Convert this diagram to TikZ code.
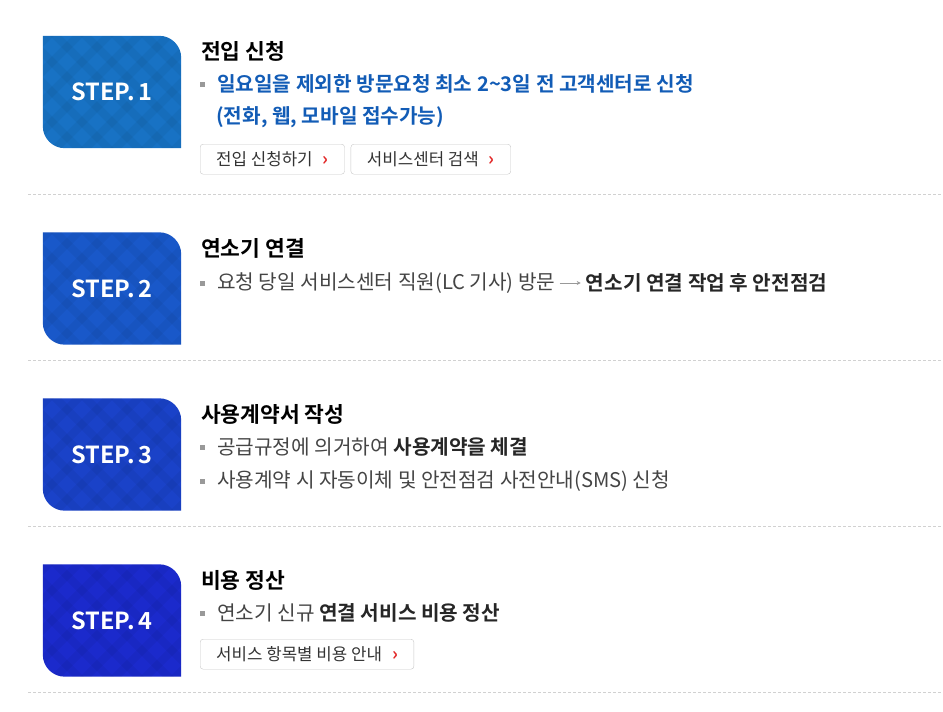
\documentclass[tikz,border=0pt]{standalone}
\usepackage{fontspec}
\setmainfont{Noto Sans CJK KR}[BoldFont={Noto Sans CJK KR Bold}]
\usetikzlibrary{positioning,calc,arrows.meta}

\definecolor{stepA}{RGB}{24,114,196}
\definecolor{stepB}{RGB}{25,88,201}
\definecolor{stepC}{RGB}{26,66,200}
\definecolor{stepD}{RGB}{27,42,204}
\definecolor{linkblue}{RGB}{18,92,182}
\definecolor{bodygray}{RGB}{68,68,68}
\definecolor{chevred}{RGB}{226,40,40}

% box with the two rounded corners (top right, bottom left)
\newcommand\stepshape[1]{(#1.north west) -- ($(#1.north east)+(-22pt,0pt)$)
  arc[start angle=90,end angle=0,radius=22pt] -- (#1.south east)
  -- ($(#1.south west)+(22pt,0pt)$) arc[start angle=270,end angle=180,radius=22pt] -- cycle}
\newcommand\chev{{\color{chevred}\bfseries\fontsize{18}{18}\selectfont ›}}

\begin{document}
\begin{tikzpicture}[x=1pt,y=-1pt,
    stepbox/.style={minimum width=138pt,minimum height=112pt,inner sep=0pt,
       text=white,font=\fontsize{23.5}{23.5}\selectfont\bfseries},
    title/.style={anchor=west,inner sep=0pt,font=\fontsize{21.5}{21.5}\selectfont\bfseries,text=black},
    body/.style={anchor=west,inner sep=0pt,font=\fontsize{20.2}{20.2}\selectfont,text=bodygray},
    strong/.style={body,text=black!85,font=\fontsize{20.2}{20.2}\selectfont\bfseries},
    bullet/.style={fill=black!40,minimum size=5pt,inner sep=0pt},
    button/.style={draw=black!22,rounded corners=3pt,anchor=north west,minimum height=30pt,
       inner xsep=16pt,inner ysep=0pt,font=\fontsize{16.8}{16.8}\selectfont,text=black!80},
    sep/.style={black!18,dash pattern=on 3pt off 2pt}]

    \useasboundingbox (0,0) rectangle (943,712);

    % step boxes
    \foreach \n/\y/\c in {1/92/stepA,2/288.5/stepB,3/454.5/stepC,4/620.5/stepD}
    {
      \node[stepbox] (step\n) at (112,\y) {};
      \fill[\c] \stepshape{step\n};
      \begin{scope}
        \clip \stepshape{step\n};
        \foreach \k in {-6,...,6}
        {
          \draw[black,opacity=0.045,line width=8pt] ($(step\n.center)+(\k*30-90,-90)$) -- ++(180,180);
          \draw[black,opacity=0.045,line width=8pt] ($(step\n.center)+(\k*30-90,90)$) -- ++(180,-180);
        }
      \end{scope}
      \node[stepbox] at (step\n.center) {STEP.\,\n};
    }

    % separators
    \foreach \y in {194,360,526,692}
      \draw[sep] (28,\y) -- (943,\y);

    % step 1
    \node[title] (t1) at (201,51) {전입 신청};
    \node[bullet] (b1a) at (202.5,84) {};
    \node[strong,text=linkblue] (l1a) at (217,84)
      {일요일을 제외한 방문요청 최소 2\textasciitilde 3일 전 고객센터로 신청};
    \node[strong,text=linkblue] (l1b) at (216,117) {(전화, 웹, 모바일 접수가능)};
    \node[button] (btn1) at (200,144) {전입 신청하기\hspace{10pt}\chev};
    \node[button,right=6pt of btn1.north east,anchor=north west] (btn2) {서비스센터 검색\hspace{10pt}\chev};

    % step 2
    \node[title] (t2) at (201,248) {연소기 연결};
    \node[bullet] (b2a) at (202.5,283) {};
    \node[body] (l2a) at (217,283) {요청 당일 서비스센터 직원(LC 기사) 방문};
    \node[strong,right=30pt of l2a] (l2b) {연소기 연결 작업 후 안전점검};
    \draw[black!40,-{Stealth[length=4pt,width=4pt]},shorten <=4pt,shorten >=5pt] (l2a.east) -- (l2b.west);

    % step 3
    \node[title] (t3) at (201,414) {사용계약서 작성};
    \node[bullet] (b3a) at (202.5,447) {};
    \node[body] (l3a) at (217,447) {공급규정에 의거하여 {\bfseries\color{black!85}사용계약을 체결}};
    \node[bullet] (b3b) at (202.5,481) {};
    \node[body] (l3b) at (217,481) {사용계약 시 자동이체 및 안전점검 사전안내(SMS) 신청};

    % step 4
    \node[title] (t4) at (201,580) {비용 정산};
    \node[bullet] (b4a) at (202.5,613) {};
    \node[body] (l4a) at (217,613) {연소기 신규 {\bfseries\color{black!85}연결 서비스 비용 정산}};
    \node[button] (btn3) at (200,639) {서비스 항목별 비용 안내\hspace{10pt}\chev};

\end{tikzpicture}
\end{document}
